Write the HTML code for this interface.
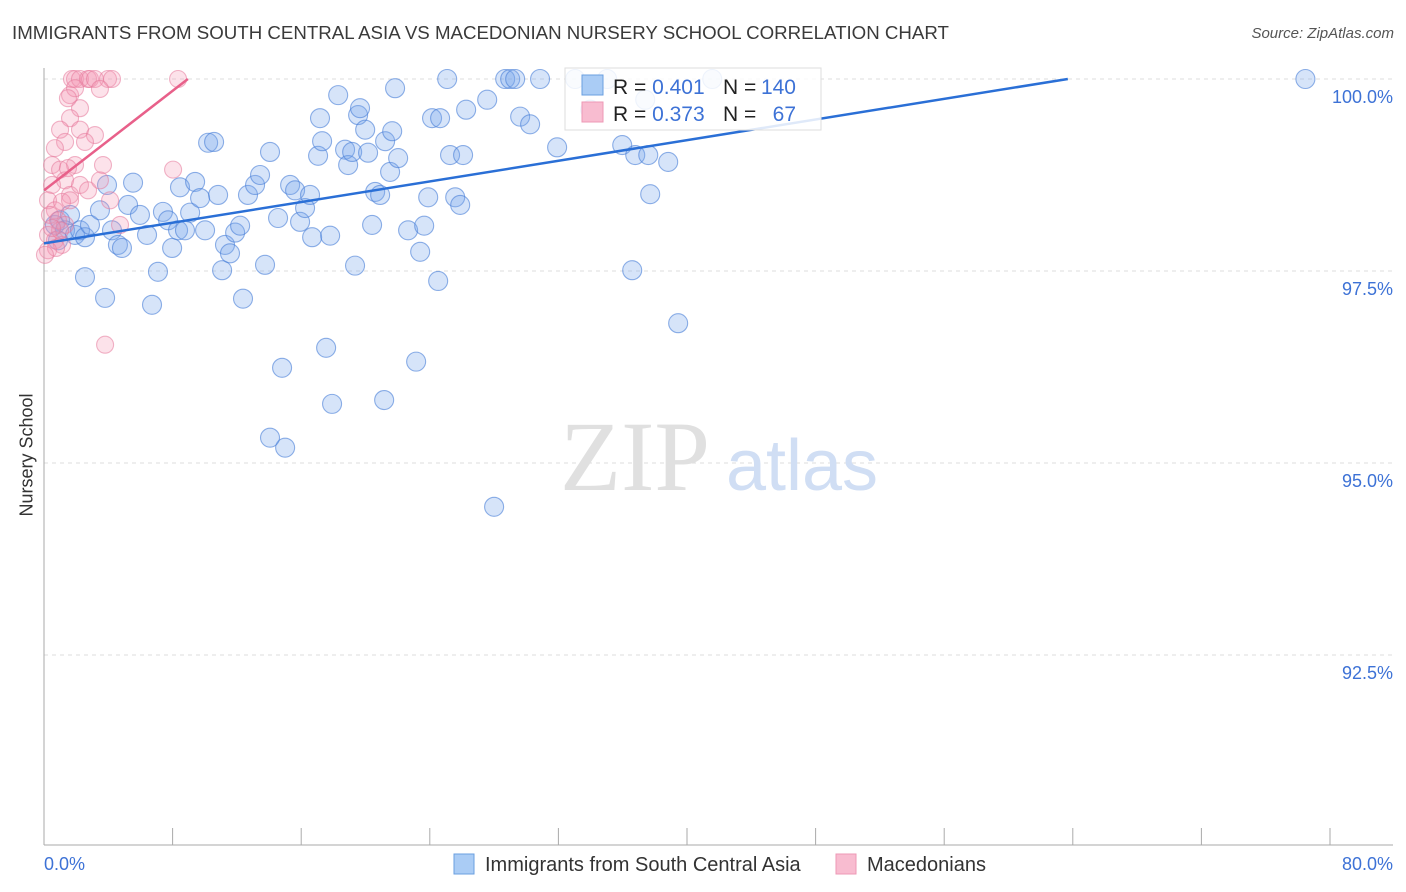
<!DOCTYPE html>
<html><head><meta charset="utf-8"><style>
body{margin:0;background:#fff;font-family:"Liberation Sans",sans-serif;}
#wrap{position:relative;width:1406px;height:892px;}
.t{position:absolute;white-space:nowrap;}
</style></head><body>
<div id="wrap">
<div class="t" style="left:12px;top:22px;font-size:18.7px;color:#3a3a3a;">IMMIGRANTS FROM SOUTH CENTRAL ASIA VS MACEDONIAN NURSERY SCHOOL CORRELATION CHART</div>
<div class="t" style="right:12px;top:25px;font-size:15px;color:#555;font-style:italic;">Source: ZipAtlas.com</div>
<div class="t" style="left:27px;top:455px;font-size:18px;color:#333;transform:translate(-50%,-50%) rotate(-90deg);">Nursery School</div>
<svg id="svg" width="1406" height="892" style="position:absolute;left:0;top:0"></svg>
</div>
<script>
const yTicks=[100,97.5,95,92.5];
const yTickLabels=["100.0%","97.5%","95.0%","92.5%"];
const xTickVals=[0,8,16,24,32,40,48,56,64,72,80];
const blueX=[0.68,1.0,1.31,1.62,1.93,2.24,2.55,2.86,0.87,3.48,3.8,2.55,3.92,4.23,4.6,4.85,5.23,5.54,5.97,6.41,6.72,7.09,7.4,7.72,7.97,8.34,8.46,8.77,9.09,9.4,9.71,10.02,10.21,10.58,10.83,11.08,11.26,11.57,11.89,12.2,12.38,12.69,13.13,13.44,13.75,14.06,14.56,14.81,15.0,14.06,15.31,15.62,15.93,16.24,16.55,16.68,17.05,17.17,17.3,17.55,17.8,17.92,18.3,18.73,18.92,19.17,19.35,19.54,19.66,19.98,20.16,20.41,20.6,20.91,21.16,21.22,21.53,21.66,21.84,22.03,22.65,23.15,23.4,23.65,23.9,24.14,24.52,24.64,25.08,25.26,25.58,25.89,26.07,26.26,27.57,28.0,28.69,29.0,29.31,29.62,30.24,30.86,31.92,33.04,33.98,35.03,35.97,36.59,36.78,37.4,37.59,37.71,38.83,39.45,41.57,78.47];
const blueY=[98.10,98.16,98.03,98.23,97.97,98.03,97.94,98.10,97.90,98.29,97.15,97.42,98.62,98.03,97.84,97.80,98.36,98.65,98.23,97.97,97.06,97.49,98.27,98.16,97.80,98.03,98.59,98.03,98.26,98.66,98.45,98.03,99.17,99.18,98.49,97.51,97.84,97.73,98.0,98.09,97.14,98.49,98.62,98.75,97.58,99.05,98.19,96.24,95.20,95.33,98.62,98.55,98.14,98.32,98.49,97.94,99.0,99.49,99.19,96.5,97.96,95.77,99.79,99.08,98.88,99.05,97.57,99.53,99.62,99.34,99.04,98.10,98.53,98.49,95.82,99.19,98.79,99.32,99.88,98.97,98.03,96.32,97.75,98.09,98.46,99.49,97.37,99.49,100,99.01,98.46,98.36,99.01,99.6,99.73,94.43,100,100,100,99.51,99.41,100,99.11,100,99.6,100,99.14,97.51,99.01,99.73,99.01,98.5,98.92,96.82,100,100];
const pinkX=[1.74,1.93,2.24,2.74,2.86,3.17,3.98,4.23,8.34,1.62,1.93,3.48,2.24,1.49,1.62,2.24,3.17,1.0,1.31,2.55,0.68,1.93,3.67,0.5,1.0,1.49,0.5,1.31,1.62,2.24,2.74,3.48,0.25,0.68,1.12,1.62,4.11,0.37,0.87,1.31,0.25,0.68,1.12,0.25,0.75,4.73,3.8,8.03,1.0,0.5,0.06];
const pinkY=[100,100,100,100,100,100,100,100,100,99.79,99.88,99.87,99.62,99.75,99.49,99.34,99.27,99.34,99.18,99.18,99.1,98.88,98.88,98.88,98.82,98.84,98.62,98.68,98.49,98.62,98.55,98.68,98.42,98.29,98.4,98.42,98.42,98.23,98.16,98.1,97.97,97.9,97.84,97.77,97.8,98.1,96.54,98.82,98.03,98.06,97.71];
const blueTrend=[97.86,0.0336];
const pinkTrend=[98.55,0.162];
const X0=44,X1=1330,PX=1393,YT=79,YB=845;
const xs=v=>X0+(X1-X0)*v/80;
const ys=v=>YT+(100-v)*76.8;
const svg=document.getElementById('svg');
const NS='http://www.w3.org/2000/svg';
function mk(t,a){const e=document.createElementNS(NS,t);for(const k in a)e.setAttribute(k,a[k]);svg.appendChild(e);return e;}
yTicks.forEach((v,i)=>{
 const g=mk('line',{x1:X0,x2:PX,y1:ys(v),y2:ys(v),stroke:'#ddd','stroke-dasharray':'4,4'});
 
 
 const t=mk('text',{x:PX,y:ys(v)+24,'text-anchor':'end','font-size':18,fill:'#3d72d6','font-family':'Liberation Sans'});
 t.textContent=yTickLabels[i];
 
 
});
const ax=mk('line',{x1:X0,x2:X0,y1:68,y2:YB,stroke:'#aaa'});


const bx=mk('line',{x1:X0,x2:PX,y1:YB,y2:YB,stroke:'#aaa'});


xTickVals.forEach(v=>{
 const l=mk('line',{x1:xs(v),x2:xs(v),y1:828,y2:YB,stroke:'#aaa'});
 
 
});
const xl0=mk('text',{x:X0,y:870,'font-size':18,fill:'#3d72d6','font-family':'Liberation Sans'});xl0.textContent='0.0%';


const xl1=mk('text',{x:PX,y:870,'text-anchor':'end','font-size':18,fill:'#3d72d6','font-family':'Liberation Sans'});xl1.textContent='80.0%';


const w1=mk('text',{x:635,y:490,'text-anchor':'middle','font-size':100,fill:'#e0e0e0','font-family':'Liberation Serif'});w1.textContent='ZIP';


const w2=mk('text',{x:802,y:490,'text-anchor':'middle','font-size':72,fill:'#d0def4','font-family':'Liberation Sans'});w2.textContent='atlas';


blueX.forEach((v,i)=>{
 const c=mk('circle',{cx:xs(v),cy:ys(blueY[i]),r:9.5,fill:'rgba(120,165,235,0.3)',stroke:'rgba(70,125,215,0.6)','stroke-width':1.1});
 
 
});
pinkX.forEach((v,i)=>{
 const c=mk('circle',{cx:xs(v),cy:ys(pinkY[i]),r:8.5,fill:'rgba(245,150,180,0.28)',stroke:'rgba(230,120,155,0.55)','stroke-width':1.1});
 
 
});
const bEnd=(100-blueTrend[0])/blueTrend[1];
const bl=mk('line',{x1:xs(0),y1:ys(blueTrend[0]),x2:xs(bEnd),y2:ys(100),stroke:'#2a6fd6','stroke-width':2.5});


const pEnd=(100-pinkTrend[0])/pinkTrend[1];
const pl=mk('line',{x1:xs(0),y1:ys(pinkTrend[0]),x2:xs(pEnd),y2:ys(100),stroke:'#e8608a','stroke-width':2.5});


const lg=mk('rect',{x:565,y:68,width:256,height:62,fill:'rgba(255,255,255,0.85)',stroke:'#ddd'});


const s1=mk('rect',{x:582,y:75,width:21,height:20,fill:'#aaccf5',stroke:'#6a9fe0'});


const s2=mk('rect',{x:582,y:102,width:21,height:20,fill:'#f8bcd0',stroke:'#ee98b6'});


function row(y,r,n){
 const t=mk('text',{x:613,y:y,'font-size':21,fill:'#222','font-family':'Liberation Sans'});
 t.innerHTML='R = <tspan fill="#3d72d6">'+r+'</tspan><tspan x="723">N = </tspan><tspan x="796" text-anchor="end" fill="#3d72d6">'+n+'</tspan>';
 
 
}
row(94,'0.401','140');row(121,'0.373','67');
const b1=mk('rect',{x:454,y:854,width:20,height:20,fill:'#aaccf5',stroke:'#6a9fe0'});


const bt1=mk('text',{x:485,y:871,'font-size':20,fill:'#333','font-family':'Liberation Sans'});bt1.textContent='Immigrants from South Central Asia';


const b2=mk('rect',{x:836,y:854,width:20,height:20,fill:'#f8bcd0',stroke:'#ee98b6'});


const bt2=mk('text',{x:867,y:871,'font-size':20,fill:'#333','font-family':'Liberation Sans'});bt2.textContent='Macedonians';


</script>
</body></html>
